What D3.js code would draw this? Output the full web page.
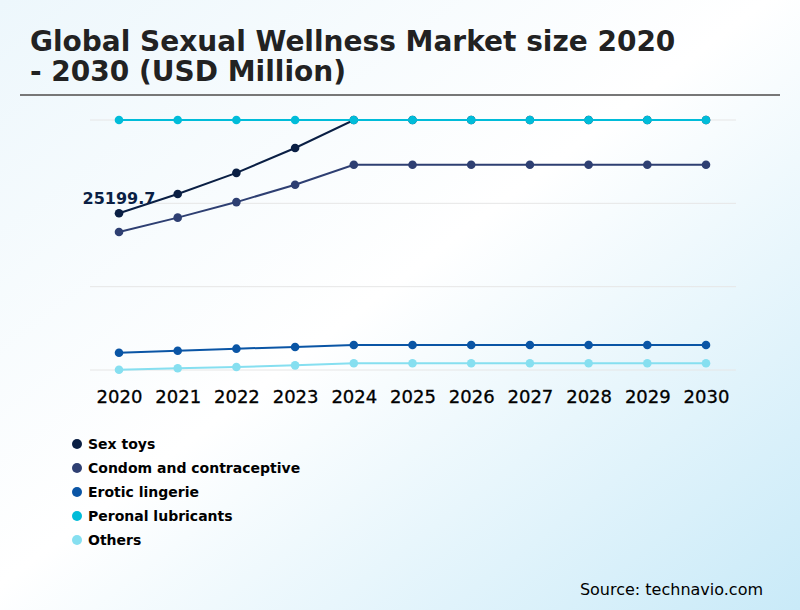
<!DOCTYPE html>
<html>
<head>
<meta charset="utf-8">
<script src="https://cdn.jsdelivr.net/npm/d3@7"></script>
<style>
  html, body { margin: 0; padding: 0; }
  body { width: 800px; height: 610px; overflow: hidden; font-family: "DejaVu Sans", sans-serif; }
</style>
</head>
<body>
<div id="chart"></div>
<script>
// data (USD Million)
var years = ['2020', '2021', '2022', '2023', '2024', '2025', '2026', '2027', '2028', '2029', '2030'];
var seriesNames = ['Sex toys', 'Condom and contraceptive', 'Erotic lingerie', 'Peronal lubricants', 'Others'];
var sexToys = [25199.7, 28300, 31700, 35700, 40200, 40200, 40200, 40200, 40200, 40200, 40200];
var condoms = [22200, 24500, 27000, 29800, 33000, 33000, 33000, 33000, 33000, 33000, 33000];
var lingerie = [2780, 3100, 3430, 3700, 4020, 4020, 4020, 4020, 4020, 4020, 4020];
var lubricants = [40200, 40200, 40200, 40200, 40200, 40200, 40200, 40200, 40200, 40200, 40200];
var others = [50, 270, 480, 750, 1080, 1080, 1080, 1080, 1080, 1080, 1080];
var gridTicks = [0, 13400, 26800, 40200];

var colors = ['#0a1f44', '#2e3f72', '#0a55a5', '#00bcd9', '#86dff0'];
var allSeries = [sexToys, condoms, lingerie, lubricants, others];

var width = 800, height = 610,
    plot = { left: 90, right: 736, top: 120, bottom: 370 };

var svg = d3.select('#chart').append('svg')
    .attr('width', width)
    .attr('height', height);

var defs = svg.append('defs');
var grad = defs.append('linearGradient')
    .attr('id', 'bg')
    .attr('x1', '0').attr('y1', '0')
    .attr('x2', '1').attr('y2', '1');
grad.append('stop').attr('offset', '0%').attr('stop-color', '#edf7fc');
grad.append('stop').attr('offset', '48%').attr('stop-color', '#ffffff');
grad.append('stop').attr('offset', '100%').attr('stop-color', '#c9eaf8');

svg.append('rect')
    .attr('width', width)
    .attr('height', height)
    .attr('fill', 'url(#bg)');

// title, two lines
var titleLines = ['Global Sexual Wellness Market size 2020', '- 2030 (USD Million)'];
svg.append('g')
    .selectAll('text')
    .data(titleLines)
    .enter().append('text')
    .attr('x', 30)
    .attr('y', function (d, i) { return 51 + i * 30; })
    .style('font-size', '28px')
    .style('font-weight', 'bold')
    .attr('fill', '#222')
    .text(function (d) { return d; });

svg.append('line')
    .attr('x1', 20).attr('x2', 780)
    .attr('y1', 95).attr('y2', 95)
    .attr('stroke', '#777')
    .attr('stroke-width', 2);

var x = d3.scalePoint()
    .domain(years)
    .range([119, 706]);

var y = d3.scaleLinear()
    .domain([0, 40200])
    .range([plot.bottom, plot.top])
    .clamp(true);

// grid
svg.append('g')
    .selectAll('line')
    .data(gridTicks)
    .enter().append('line')
    .attr('x1', plot.left)
    .attr('x2', plot.right)
    .attr('y1', function (d) { return y(d); })
    .attr('y2', function (d) { return y(d); })
    .attr('stroke', '#e6e6e6')
    .attr('stroke-width', 1);

// x axis labels
var xAxis = d3.axisBottom(x).tickSize(0).tickPadding(0);
var xg = svg.append('g')
    .attr('transform', 'translate(0,' + 390 + ')')
    .call(xAxis);
xg.select('.domain').remove();
xg.selectAll('text')
    .style('font-size', '18px')
    .style('font-family', '"DejaVu Sans", sans-serif')
    .attr('fill', '#000')
    .attr('stroke', '#000')
    .attr('stroke-width', 0.3);

var line = d3.line()
    .x(function (d, i) { return x(years[i]); })
    .y(function (d) { return y(d); });

allSeries.forEach(function (values, k) {
    var g = svg.append('g');
    g.append('path')
        .datum(values)
        .attr('d', line)
        .attr('fill', 'none')
        .attr('stroke', colors[k])
        .attr('stroke-width', 2);
    g.selectAll('circle')
        .data(values)
        .enter().append('circle')
        .attr('cx', function (d, i) { return x(years[i]); })
        .attr('cy', function (d) { return y(d); })
        .attr('r', 4.3)
        .attr('fill', colors[k]);
});

// data label on the first point
svg.append('text')
    .attr('x', x(years[0]))
    .attr('y', y(sexToys[0]) - 9)
    .attr('text-anchor', 'middle')
    .style('font-size', '16px')
    .style('font-weight', 'bold')
    .attr('fill', '#0a1f44')
    .text(sexToys[0]);

// legend
var legend = svg.append('g')
    .selectAll('g')
    .data(seriesNames)
    .enter().append('g')
    .attr('transform', function (d, i) { return 'translate(77,' + (444 + i * 24) + ')'; });
legend.append('circle')
    .attr('r', 5)
    .attr('fill', function (d, i) { return colors[i]; });
legend.append('text')
    .attr('x', 11)
    .attr('dy', '0.35em')
    .style('font-size', '14px')
    .style('font-weight', 'bold')
    .attr('fill', '#000')
    .text(function (d) { return d; });

svg.append('text')
    .attr('x', 763)
    .attr('y', 595)
    .attr('text-anchor', 'end')
    .style('font-size', '16px')
    .attr('fill', '#000')
    .text('Source: technavio.com');
</script>
</body>
</html>
